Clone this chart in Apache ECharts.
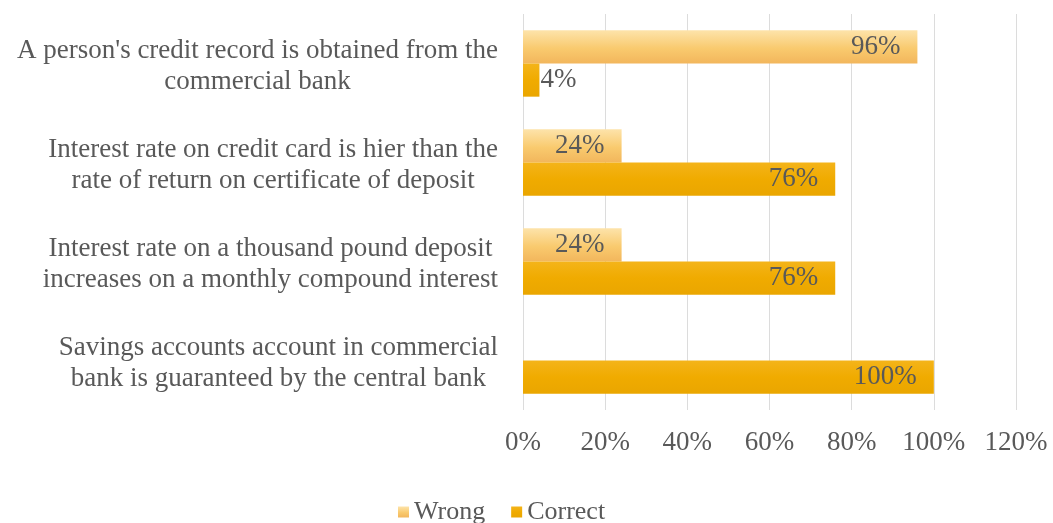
<!DOCTYPE html>
<html>
<head>
<meta charset="utf-8">
<script src="https://cdn.jsdelivr.net/npm/echarts@6/dist/echarts.min.js"></script>
<style>
  html, body { margin: 0; padding: 0; background: #ffffff; }
  #chart { width: 1053px; height: 523px; }
</style>
</head>
<body>
<div id="chart"></div>
<script>
// Survey statements (top to bottom) and share of answers, in percent
const categories = [
  "A person's credit record is obtained from the\ncommercial bank",
  "Interest rate on credit card is hier than the\nrate of return on certificate of deposit",
  "Interest rate on a thousand pound deposit\nincreases on a monthly compound interest",
  "Savings accounts account in commercial\nbank is guaranteed by the central bank"
];
const wrongValues = [96, 24, 24, 0];
const correctValues = [4, 76, 76, 100];
const seriesNames = ['Wrong', 'Correct'];

const FONT = '"Liberation Serif", "Times New Roman", serif';
const TEXT = '#595959';

function grad(stops) {
  return new echarts.graphic.LinearGradient(0, 0, 0, 1,
    stops.map(([offset, color]) => ({ offset, color })));
}
const wrongFill = grad([[0, '#FDE3AA'], [0.55, '#F9CA6E'], [1, '#F2B65C']]);
const correctFill = grad([[0, '#F4B41A'], [0.5, '#F0AB00'], [1, '#EAA600']]);

// Short bars get their label just outside the bar end
function toData(values) {
  return values.map(v => v < 10 && v > 0
    ? { value: v, label: { position: 'right', distance: 1 } }
    : v);
}

const valueLabel = {
  show: true,
  position: 'insideRight',
  distance: 17,
  fontFamily: FONT,
  fontSize: 27,
  color: TEXT,
  formatter: p => (p.value ? p.value + '%' : '')
};

const chart = echarts.init(document.getElementById('chart'), null, { renderer: 'canvas' });
chart.setOption({
  animation: false,
  backgroundColor: '#ffffff',
  grid: { left: 523, right: 37, top: 14, bottom: 113, containLabel: false },
  legend: {
    data: seriesNames,
    left: 393,
    top: 494,
    icon: 'rect',
    itemWidth: 11,
    itemHeight: 11,
    itemGap: 26,
    textStyle: { fontFamily: FONT, fontSize: 26, color: TEXT }
  },
  xAxis: {
    type: 'value',
    min: 0,
    max: 120,
    interval: 20,
    axisLine: { show: false },
    axisTick: { show: false },
    splitLine: { show: true, lineStyle: { color: '#DCDCDC', width: 1 } },
    axisLabel: {
      formatter: '{value}%',
      fontFamily: FONT,
      fontSize: 27,
      color: TEXT,
      margin: 19
    }
  },
  yAxis: {
    type: 'category',
    data: categories,
    inverse: true,
    axisLine: { show: false },
    axisTick: { show: false },
    axisLabel: {
      margin: 25,
      align: 'right',
      padding: [6, 0, 0, 0],
      formatter: v => v.split('\n').map(l => '{c|' + l + '}').join('\n'),
      rich: {
        c: {
          align: 'center',
          fontFamily: FONT,
          fontSize: 27,
          lineHeight: 31,
          color: TEXT
        }
      }
    }
  },
  series: [
    {
      name: seriesNames[0],
      type: 'bar',
      data: toData(wrongValues),
      barGap: '0%',
      barCategoryGap: '33%',
      itemStyle: { color: wrongFill },
      label: valueLabel
    },
    {
      name: seriesNames[1],
      type: 'bar',
      data: toData(correctValues),
      barGap: '0%',
      barCategoryGap: '33%',
      itemStyle: { color: correctFill },
      label: valueLabel
    }
  ]
});
</script>
</body>
</html>
